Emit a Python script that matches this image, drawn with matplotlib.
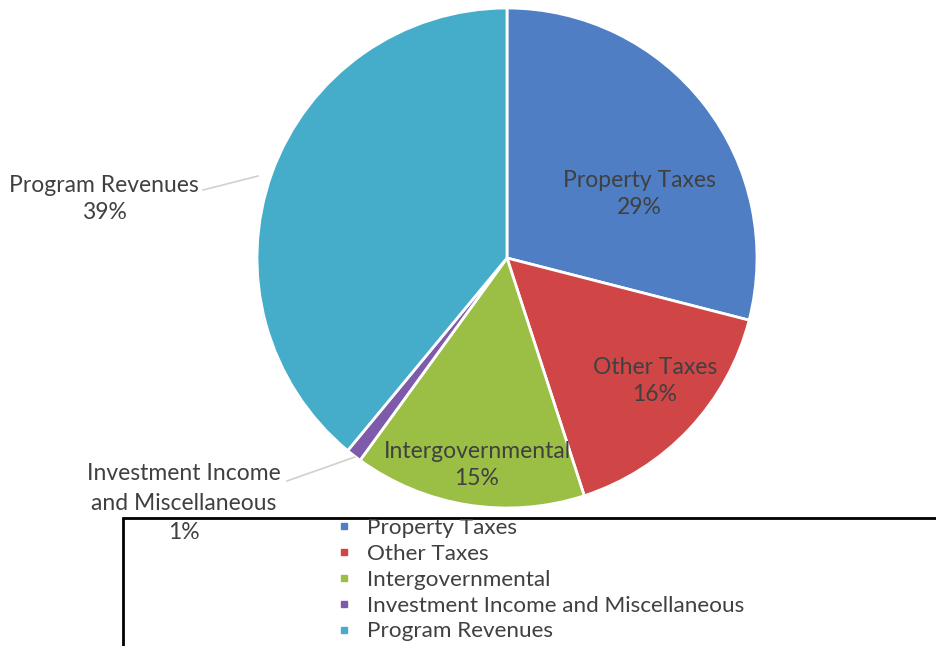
import matplotlib.pyplot as plt
from matplotlib.lines import Line2D
from matplotlib.patches import Rectangle

# revenue shares, percent
categories = ['Property Taxes', 'Other Taxes', 'Intergovernmental',
              'Investment Income and Miscellaneous', 'Program Revenues']
shares = [29, 16, 15, 1, 39]
colors = ['#4F7EC4', '#D04646', '#9BBF45', '#7E5BAA', '#45ADC9']

# label text per slice (wrapped like the chart)
label_names = ['Property Taxes', 'Other Taxes', 'Intergovernmental',
               'Investment Income\nand Miscellaneous', 'Program Revenues']
# label centres in pixel coords (y measured from top)
label_pos = [(639, 194), (655, 381), (477, 465), (184, 503), (104, 199)]
label_spacing = [1.35, 1.35, 1.35, 1.5, 1.4]

plt.rcParams['font.family'] = ['Lato', 'DejaVu Sans']
text_color = '#404040'

W, H = 936, 646
fig = plt.figure(figsize=(W / 100, H / 100), dpi=100)
ax = fig.add_axes([0, 0, 1, 1])

cx, cy, r = 507, H - 258, 250
wedges, _ = ax.pie(shares, colors=colors, startangle=90, counterclock=False,
                   center=(cx, cy), radius=r, frame=True,
                   wedgeprops=dict(edgecolor='white', linewidth=2))
ax.set_xlim(0, W)
ax.set_ylim(0, H)
ax.set_aspect('equal')
ax.axis('off')

for name, val, (lx, ly), ls in zip(label_names, shares, label_pos, label_spacing):
    ax.text(lx, H - ly, f'{name}\n{val}%', ha='center', va='center',
            fontsize=16.5, color=text_color, linespacing=ls)

# leader lines for the outside labels
ax.plot([203, 258], [H - 190, H - 176], color='#D0D0D0', lw=1.2)
ax.plot([287, 355], [H - 481, H - 457], color='#D0D0D0', lw=1.2)

# legend box
ax.add_patch(Rectangle((123, -10), 900, H - 518 + 10, fill=False,
                       edgecolor='black', lw=2, clip_on=False))
handles = [Line2D([], [], marker='s', ls='none', markersize=5,
                  markerfacecolor=c, markeredgecolor=c) for c in colors]
leg = ax.legend(handles, categories, loc='upper left',
                bbox_to_anchor=(337 / W, 1 - 518 / H), frameon=False,
                fontsize=16.2, handlelength=0.6, handletextpad=0.75,
                labelspacing=0.26, borderpad=0, borderaxespad=0)
for t in leg.get_texts():
    t.set_color(text_color)

fig.savefig('out.png', dpi=100)
